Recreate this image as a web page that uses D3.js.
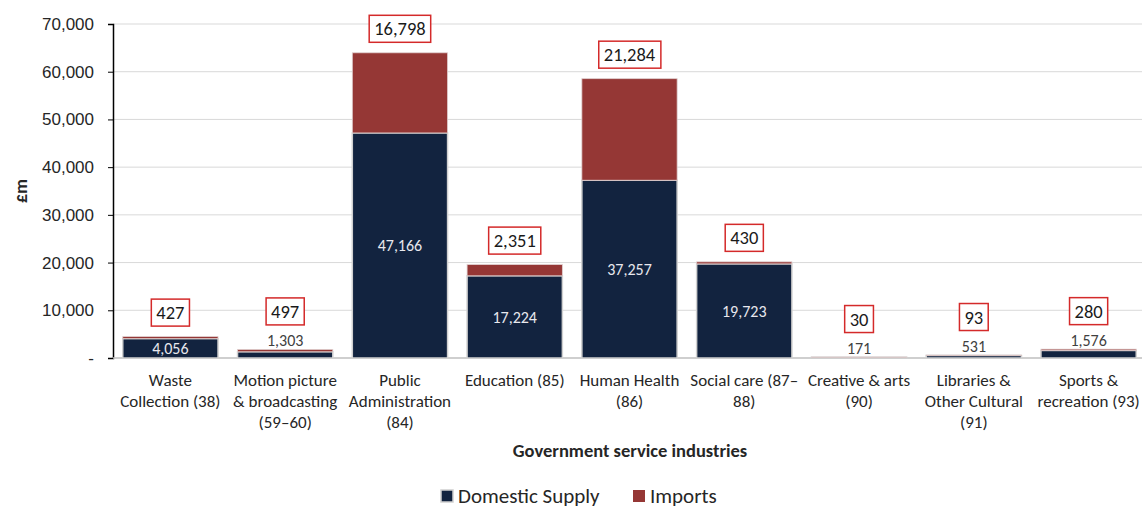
<!DOCTYPE html>
<html>
<head>
<meta charset="utf-8">
<script src="https://cdn.jsdelivr.net/npm/d3@7"></script>
<style>
  body { margin: 0; background: #fff; }
  svg { display: block; font-family: Carlito, Lato, "Open Sans", sans-serif; }
</style>
</head>
<body>
<svg id="chart" width="1142" height="508"></svg>
<script>
// Government service industries: supply split into domestic and imports (£m)
const categories = [
  ["Waste", "Collection (38)"],
  ["Motion picture", "& broadcasting", "(59–60)"],
  ["Public", "Administration", "(84)"],
  ["Education (85)"],
  ["Human Health", "(86)"],
  ["Social care (87–", "88)"],
  ["Creative & arts", "(90)"],
  ["Libraries &", "Other Cultural", "(91)"],
  ["Sports &", "recreation (93)"]
];
const domestic = [4056, 1303, 47166, 17224, 37257, 19723, 171, 531, 1576];
const imports = [427, 497, 16798, 2351, 21284, 430, 30, 93, 280];
const yTicks = [0, 10000, 20000, 30000, 40000, 50000, 60000, 70000];
const seriesNames = ["Domestic Supply", "Imports"];

const colors = { domestic: "#12233f", imports: "#953735" };

const svg = d3.select("#chart");
const m = { left: 113, right: -4, top: 24 };
const W = 1142;
const plotBottom = 358;

const x = d3.scaleBand()
  .domain(d3.range(categories.length))
  .range([m.left, W - m.right])
  .paddingInner(0.17)
  .paddingOuter(0.085);

const y = d3.scaleLinear().domain([0, 70000]).range([plotBottom, m.top]);

// gridlines
svg.append("g")
  .selectAll("line")
  .data(yTicks.filter(d => d > 0))
  .join("line")
  .attr("x1", m.left).attr("x2", W)
  .attr("y1", d => y(d)).attr("y2", d => y(d))
  .attr("stroke", "#d9d9d9").attr("stroke-width", 1);

// y axis
const fmt = d3.format(",");
const yAxis = d3.axisLeft(y)
  .tickValues(yTicks)
  .tickSize(5)
  .tickPadding(14)
  .tickFormat(d => d === 0 ? "-" : fmt(d));
const gy = svg.append("g").attr("transform", `translate(${m.left},0)`).call(yAxis);
gy.select(".domain").attr("stroke", "#000").attr("stroke-width", 1.5);
gy.selectAll(".tick line").attr("stroke", "#000");
gy.selectAll(".tick text").attr("font-size", 17).attr("fill", "#262626");

// x axis baseline
svg.append("line")
  .attr("x1", m.left).attr("x2", W)
  .attr("y1", plotBottom).attr("y2", plotBottom)
  .attr("stroke", "#bfbfbf").attr("stroke-width", 1.5);

const idx = d3.range(categories.length);

// domestic bars
svg.append("g").selectAll("rect")
  .data(idx).join("rect")
  .attr("x", i => x(i))
  .attr("width", x.bandwidth())
  .attr("y", i => y(domestic[i]))
  .attr("height", i => y(0) - y(domestic[i]))
  .attr("fill", colors.domestic)
  .attr("stroke", "#d0d0d0").attr("stroke-width", 1.5);

// imports bars
svg.append("g").selectAll("rect")
  .data(idx).join("rect")
  .attr("x", i => x(i))
  .attr("width", x.bandwidth())
  .attr("y", i => y(domestic[i] + imports[i]))
  .attr("height", i => y(domestic[i]) - y(domestic[i] + imports[i]))
  .attr("fill", colors.imports)
  .attr("stroke", "#e0d0d0").attr("stroke-width", 0.8);

// domestic value labels: inside tall bars, just above short ones
const inside = i => domestic[i] >= 3000;
const domLabelY = i => inside(i)
  ? (y(domestic[i]) + y(0)) / 2
  : y(domestic[i] + imports[i]) - 9;

svg.append("g").selectAll("text")
  .data(idx).join("text")
  .attr("x", i => x(i) + x.bandwidth() / 2)
  .attr("y", domLabelY)
  .attr("dy", "0.35em")
  .attr("text-anchor", "middle")
  .attr("font-size", 16)
  .attr("fill", i => inside(i) ? "#e8e8ee" : "#404040")
  .text(i => fmt(domestic[i]));

// imports value labels in boxed callouts
const impLabelY = i => inside(i)
  ? y(domestic[i] + imports[i]) - 24
  : domLabelY(i) - 29;

const boxes = svg.append("g").selectAll("g")
  .data(idx).join("g")
  .attr("transform", i => `translate(${x(i) + x.bandwidth() / 2},${impLabelY(i)})`);

boxes.append("text")
  .attr("text-anchor", "middle")
  .attr("dy", "0.35em")
  .attr("font-size", 18.5)
  .attr("fill", "#1a1a1a")
  .text(i => fmt(imports[i]));

boxes.each(function () {
  const g = d3.select(this);
  const bb = g.select("text").node().getBBox();
  g.insert("rect", "text")
    .attr("x", bb.x - 5)
    .attr("y", -13.5)
    .attr("width", bb.width + 10)
    .attr("height", 27)
    .attr("fill", "#fff")
    .attr("stroke", "#d42a2a")
    .attr("stroke-width", 1.5);
});

// category labels
const catG = svg.append("g").selectAll("text")
  .data(idx).join("text")
  .attr("text-anchor", "middle")
  .attr("font-size", 17)
  .attr("fill", "#262626")
  .attr("transform", i => `translate(${x(i) + x.bandwidth() / 2},${plotBottom + 28})`);
catG.selectAll("tspan")
  .data(i => categories[i])
  .join("tspan")
  .attr("x", 0)
  .attr("dy", (d, j) => j === 0 ? 0 : 21)
  .text(d => d);

// axis titles
svg.append("text")
  .attr("x", 630).attr("y", 457)
  .attr("text-anchor", "middle")
  .attr("font-size", 18.5)
  .attr("font-weight", "bold")
  .attr("fill", "#262626")
  .text("Government service industries");

svg.append("text")
  .attr("transform", "translate(27,191) rotate(-90)")
  .attr("text-anchor", "middle")
  .attr("font-size", 18)
  .attr("font-weight", "bold")
  .attr("fill", "#262626")
  .text("£m");

// legend
const legend = svg.append("g").attr("transform", "translate(0,496)");
const legendItems = [
  { name: seriesNames[0], color: colors.domestic, x: 441 },
  { name: seriesNames[1], color: colors.imports, x: 633 }
];
const li = legend.selectAll("g").data(legendItems).join("g")
  .attr("transform", d => `translate(${d.x},0)`);
li.append("rect")
  .attr("x", 0).attr("y", -6)
  .attr("width", 12).attr("height", 12)
  .attr("fill", d => d.color)
  .attr("stroke", d => d.name === seriesNames[0] ? "#d0d0d0" : "none")
  .attr("stroke-width", 1.5);
li.append("text")
  .attr("x", 17).attr("dy", "0.35em")
  .attr("font-size", 21)
  .attr("fill", "#262626")
  .text(d => d.name);
</script>
</body>
</html>
